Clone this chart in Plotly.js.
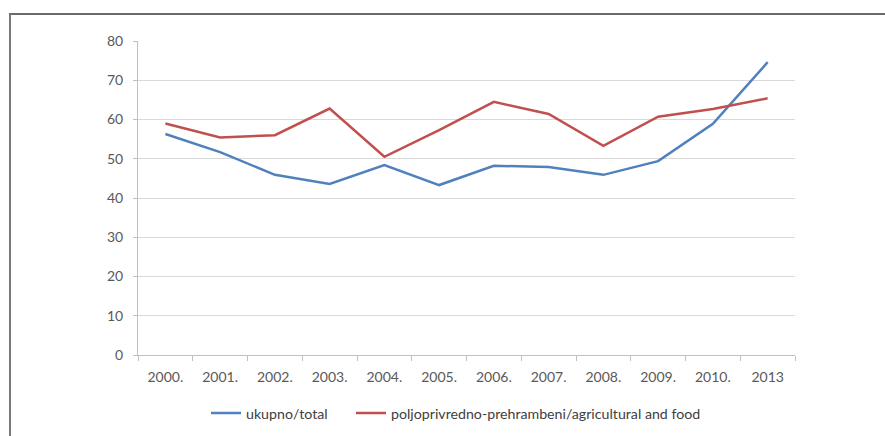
<!DOCTYPE html>
<html><head><meta charset="utf-8">
<script src="https://cdn.plot.ly/plotly-3.0.1.min.js"></script>
<style>
html,body{margin:0;padding:0;background:#fff;}
#frame{position:absolute;left:9px;top:13px;width:876px;height:423px;border-top:2.5px solid #6a6a6a;border-left:2px solid #7a7a7a;box-sizing:border-box;}
#chart{position:absolute;left:0;top:0;width:885px;height:436px;}
</style></head>
<body>
<div id="frame"></div>
<div id="chart"></div>
<script>
var years = ["2000.","2001.","2002.","2003.","2004.","2005.","2006.","2007.","2008.","2009.","2010.","2013"];
var total = [56.3,51.7,45.9,43.6,48.4,43.3,48.2,47.9,45.9,49.4,58.9,74.6];
var agriFood = [59.0,55.4,56.0,62.8,50.5,57.3,64.5,61.4,53.3,60.7,62.7,65.4];
var yTicks = [0,10,20,30,40,50,60,70,80];

var fontFam = "Lato, 'Open Sans', Arial, sans-serif";
var traces = [
  {x: years, y: total, type: 'scatter', mode: 'lines', name: 'ukupno/total', legend: 'legend',
   line: {color: '#4f81bd', width: 2.5}},
  {x: years, y: agriFood, type: 'scatter', mode: 'lines', name: 'poljoprivredno-prehrambeni/agricultural and food',
   legend: 'legend2', line: {color: '#c0504d', width: 2.5}}
];
var legFont = {family: fontFam, size: 14.2, color: '#404040'};
var layout = {
  width: 885, height: 436,
  paper_bgcolor: 'rgba(0,0,0,0)', plot_bgcolor: 'rgba(0,0,0,0)',
  margin: {l: 138, r: 90, t: 41, b: 81, autoexpand: false},
  font: {family: fontFam, size: 14, color: '#595959'},
  showlegend: true,
  legend: {orientation: 'h', xref: 'container', x: 206/885, xanchor: 'left', y: -0.135, yanchor: 'top',
           font: legFont, itemwidth: 30, bgcolor: 'rgba(0,0,0,0)'},
  legend2: {orientation: 'h', xref: 'container', x: 351/885, xanchor: 'left', y: -0.135, yanchor: 'top',
           font: legFont, itemwidth: 30, bgcolor: 'rgba(0,0,0,0)'},
  xaxis: {type: 'category', tickson: 'boundaries', ticks: 'outside', ticklen: 5, tickcolor: '#bfbfbf',
          showline: true, linecolor: '#bfbfbf', linewidth: 1, showgrid: false, zeroline: false,
          ticklabelstandoff: 9,
          tickfont: {family: fontFam, size: 14, color: '#595959'}, range: [-0.5, 11.5]},
  yaxis: {range: [0, 80], tickvals: yTicks, ticks: 'outside', ticklen: 4, tickcolor: '#bfbfbf',
          showline: true, linecolor: '#bfbfbf', linewidth: 1, gridcolor: '#d9d9d9', gridwidth: 1,
          zeroline: false, ticklabelstandoff: 7,
          tickfont: {family: fontFam, size: 14, color: '#595959'}}
};
Plotly.newPlot('chart', traces, layout, {displayModeBar: false, staticPlot: true});
</script>
</body></html>
